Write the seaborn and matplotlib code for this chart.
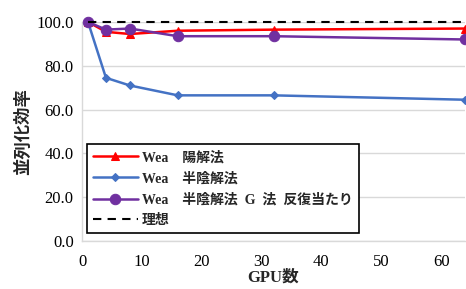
import matplotlib
matplotlib.use("Agg")
import matplotlib.pyplot as plt
import seaborn as sns
import pandas as pd

gpus = [1, 4, 8, 16, 32, 64]
explicit = [100.0, 95.5, 94.5, 96.0, 96.5, 97.0]
semi = [100.0, 74.5, 71.0, 66.5, 66.5, 64.5]
semi_g = [100.0, 96.5, 97.0, 93.5, 93.5, 92.0]
ideal = [100.0, 100.0, 100.0, 100.0, 100.0, 100.0]
labels = ["Wea　陽解法", "Wea　半陰解法", "Wea　半陰解法  G  法  反復当たり", "理想"]

sns.set_theme(style="white")
fam = ["Liberation Serif", "Noto Sans CJK JP", "DejaVu Sans"]
plt.rcParams["font.family"] = fam

fig = plt.figure(figsize=(4.66, 2.89), dpi=100)
ax = fig.add_axes([0.176, 0.166, 0.822, 0.758])

df = pd.DataFrame({"x": gpus * 4,
                   "y": explicit + semi + semi_g + ideal,
                   "s": sum([[l] * len(gpus) for l in labels], [])})

styles = [
    dict(color="#FF0000", marker="^", ms=6, lw=1.8, ls="-"),
    dict(color="#4472C4", marker="D", ms=4.5, lw=1.8, ls="-"),
    dict(color="#7030A0", marker="o", ms=7.5, lw=1.8, ls="-"),
    dict(color="black", marker=None, ms=0, lw=1.5, ls=(0, (4, 3))),
]
order = [3, 0, 1, 2]
for i in order:
    lab = labels[i]
    st = styles[i]
    sub = df[df.s == lab]
    sns.lineplot(data=sub, x="x", y="y", ax=ax, color=st["color"], marker=st["marker"],
                 markersize=st["ms"], linewidth=st["lw"], linestyle=st["ls"],
                 markeredgecolor=st["color"], label=lab, clip_on=False, zorder=3 + i)

ax.set_xlim(0, 64)
ax.set_ylim(0, 100)
ax.set_xticks([0, 10, 20, 30, 40, 50, 60])
ax.set_yticks([0, 20, 40, 60, 80, 100])
ax.set_yticklabels([f"{v:.1f}" for v in [0, 20, 40, 60, 80, 100]])
ax.yaxis.grid(True, color="#D9D9D9", lw=1)
ax.xaxis.grid(False)
for s in ["top", "right"]:
    ax.spines[s].set_visible(False)
for s in ["left", "bottom"]:
    ax.spines[s].set_color("#D9D9D9")
    ax.spines[s].set_linewidth(1)
ax.tick_params(axis="x", labelsize=12, length=0, pad=9, colors="black")
ax.tick_params(axis="y", labelsize=12, length=0, pad=6, colors="black")
ax.set_xlabel("GPU数", fontsize=12, fontweight="bold", family=fam, labelpad=0)
ax.set_ylabel("並列化効率", fontsize=12.5, fontweight="bold", family=fam, labelpad=3)

h, l = ax.get_legend_handles_labels()
hd = dict(zip(l, h))
leg = ax.legend([hd[x] for x in labels], labels, loc="lower left",
                bbox_to_anchor=(0.013, 0.035), frameon=True, fancybox=False,
                edgecolor="black", framealpha=1, handlelength=3.2, handletextpad=0.3,
                prop=dict(family=fam, weight="bold", size=10),
                borderpad=0.45, labelspacing=0.55, borderaxespad=0)
leg.get_frame().set_linewidth(1.2)

fig.savefig("out.png", dpi=100)
